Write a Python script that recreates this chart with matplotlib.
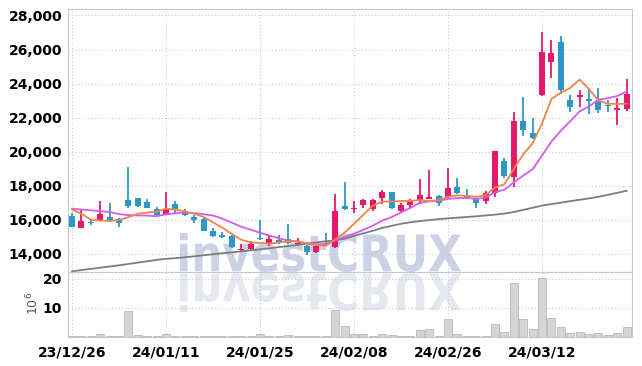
import numpy as np
import matplotlib.pyplot as plt
from matplotlib.textpath import TextPath
from matplotlib.patches import PathPatch
from matplotlib.font_manager import FontProperties
from matplotlib.transforms import Affine2D

# tick labels (every 10 trading days)
date_labels = ["23/12/26", "24/01/11", "24/01/25", "24/02/08", "24/02/26", "24/03/12"]
date_pos = [0, 10, 20, 30, 40, 50]

opens = [16200, 15500, 15850, 15950, 16150, 16050, 17150, 17250, 17050, 16600,
         16350, 16950, 16450, 16150, 16050, 15350, 15100, 15050, 14200, 14250,
         14950, 14650, 14800, 14850, 14550, 14450, 14100, 14600, 14400, 16800,
         16600, 16850, 16650, 17300, 17600, 16500, 16850, 17100, 17250, 17400,
         17350, 17950, 17450, 17200, 17100, 17550, 19450, 18500, 21800, 21100,
         23350, 25250, 26450, 23050, 23250, 23050, 22950, 22750, 22450, 22500]
highs = [16400, 16650, 16000, 17100, 17000, 16100, 19100, 17300, 17200, 16750,
         17600, 17100, 16600, 16250, 16150, 15500, 15300, 15100, 14550, 14750,
         16000, 15050, 15100, 15750, 14950, 14500, 14500, 15200, 17500, 18200,
         17100, 17200, 17200, 17750, 17600, 17000, 17200, 18400, 18900, 17450,
         19050, 18450, 17800, 17250, 17700, 20050, 19650, 22300, 23200, 21950,
         27000, 26550, 26800, 23350, 23600, 23700, 23750, 23050, 23150, 24250]
lows = [15550, 15500, 15700, 15900, 15850, 15550, 16700, 16750, 16700, 16250,
        16250, 16400, 16200, 15800, 15350, 15000, 14950, 14350, 14150, 14200,
        14800, 14450, 14550, 14600, 14450, 13950, 14050, 14450, 14350, 16550,
        16400, 16700, 16500, 16900, 16650, 16450, 16600, 16900, 17200, 16800,
        17300, 17500, 17250, 16700, 16950, 17350, 18450, 17900, 20900, 20750,
        23250, 24300, 23400, 22350, 22650, 22200, 22250, 22350, 21550, 22400]
closes = [15550, 15950, 15800, 16350, 16000, 15800, 16800, 16800, 16700, 16300,
          16650, 16550, 16250, 16000, 15350, 15050, 15000, 14400, 14300, 14600,
          14850, 14850, 14700, 14650, 14650, 14100, 14450, 14500, 16500, 16650,
          16700, 17150, 17150, 17650, 16700, 16850, 17150, 17450, 17320, 17000,
          17850, 17550, 17300, 17000, 17550, 20050, 18550, 21800, 21250, 20800,
          25850, 25800, 23600, 22650, 23300, 23000, 22450, 22700, 22550, 23400]
# volume in millions of shares
volume = [0.2, 0.2, 0.1, 0.9, 0.4, 0.1, 8.9, 0.7, 0.4, 0.4,
          0.9, 0.4, 0.1, 0.3, 0.1, 0.1, 0.1, 0.1, 0.3, 0.3,
          0.9, 0.2, 0.1, 0.6, 0.1, 0.1, 0.1, 0.3, 9.2, 3.7,
          1.0, 1.0, 0.4, 1.0, 0.6, 0.2, 0.2, 2.4, 2.7, 0.3,
          6.2, 1.0, 0.2, 0.2, 0.2, 4.5, 1.7, 18.6, 6.2, 2.8,
          20.3, 6.5, 3.3, 1.3, 1.6, 1.0, 1.3, 0.7, 1.3, 3.4]
ma5 = [16600, 16350, 16000, 15950, 15930, 15980, 16150, 16350, 16420, 16480,
       16650, 16600, 16490, 16350, 16160, 15840, 15530, 15160, 14820, 14670,
       14630, 14600, 14660, 14730, 14740, 14590, 14510, 14470, 14840, 15240,
       15760, 16300, 16830, 17060, 17070, 17100, 17100, 17160, 17090, 17150,
       17350, 17430, 17400, 17340, 17450, 17890, 18090, 18990, 19840, 20490,
       21650, 23100, 23460, 23740, 24240, 23670, 23000, 22820, 22800, 22820]
ma10 = [16650, 16600, 16550, 16500, 16450, 16330, 16270, 16250, 16240, 16205,
        16315, 16375, 16420, 16385, 16320, 16245, 16065, 15825, 15585, 15415,
        15235, 15065, 14910, 14775, 14705, 14610, 14555, 14565, 14785, 14990,
        15175, 15405, 15650, 15950, 16155, 16430, 16700, 16995, 17077, 17112,
        17227, 17267, 17282, 17217, 17302, 17622, 17762, 18197, 18590, 18970,
        19770, 20595, 21225, 21790, 22365, 22660, 23050, 23140, 23270, 23530]
ma_long = [12970, 13040, 13110, 13180, 13250, 13320, 13400, 13480, 13560, 13640,
           13700, 13740, 13790, 13850, 13910, 13970, 14030, 14080, 14140, 14200,
           14260, 14320, 14390, 14450, 14520, 14600, 14670, 14730, 14800, 14880,
           15050, 15200, 15350, 15520, 15640, 15760, 15850, 15920, 15980, 16030,
           16080, 16120, 16160, 16200, 16250, 16300, 16360, 16450, 16580, 16700,
           16830, 16920, 17000, 17090, 17170, 17250, 17350, 17460, 17580, 17700]

pink = '#e5196a'
blue = '#2f97c8'
grid_c = '#c6c9da'
spine_c = '#c8c8c8'
tick_font = ['Liberation Sans Narrow', 'DejaVu Sans']

fig = plt.figure(figsize=(6.42, 3.66), dpi=100)
ax = fig.add_axes([68/642, (366-272.3)/366, 564/642, (272.3-9)/366])
axv = fig.add_axes([68/642, (366-336.7)/366, 564/642, (336.7-272.3)/366], sharex=ax)
for a in (ax, axv):
    a.set_facecolor('none')
    a.set_axisbelow(True)
    a.grid(True, ls=(0, (1, 2)), color=grid_c, lw=0.8)
    for s in a.spines.values():
        s.set_color(spine_c)
    a.tick_params(length=0)

# watermark with reflection
fp = FontProperties(family='DejaVu Sans', weight='bold')
tp = TextPath((0, 0), 'investCRUX', size=50, prop=fp)
bb = tp.get_extents()
sx = (461 - 180) / bb.width
sy = (133 - 94) / bb.height
t_main = Affine2D().translate(-bb.x0, -bb.y0).scale(sx, sy).translate(180, 94)
t_refl = Affine2D().translate(-bb.x0, -bb.y0).scale(sx, -sy).translate(180, 93)
fig.add_artist(PathPatch(tp, transform=t_main, facecolor='#ccd2e5', lw=0, zorder=-1))
fig.add_artist(PathPatch(tp, transform=t_refl, facecolor='#e6e8ef', lw=0, zorder=-1))

o = np.array(opens)
c = np.array(closes)
x = np.arange(len(c))
cols = np.where(c >= o, pink, blue)
ax.vlines(x, lows, highs, colors=cols, lw=1.3, zorder=3)
h = np.maximum(np.abs(c - o), 80)
ax.bar(x, h, bottom=(o + c) / 2 - h / 2, width=0.64, color=cols, zorder=4)

ax.plot(x, ma_long, color='#7d7d7d', lw=1.3, zorder=5)
ax.plot(x, ma10, color='#d35ce8', lw=1.3, zorder=5)
ax.plot(x, ma5, color='#ef8448', lw=1.3, zorder=5)

ax.set_xlim(-0.43, 59.57)
ax.set_ylim(12910, 28380)
yt = list(range(14000, 28001, 2000))
ax.set_yticks(yt)
ax.set_yticklabels([f"{v:,}" for v in yt], family=tick_font, weight='bold', fontsize=10)
ax.tick_params(axis='y', pad=4.3)
ax.tick_params(axis='x', labelbottom=False)

axv.bar(x, volume, width=0.85, color='#d5d5d5', edgecolor='#b8b8b8', lw=0.6, zorder=2)
axv.set_ylim(0, 22.3)
axv.set_yticks([10, 20])
axv.set_yticklabels(['10', '20'], family=tick_font, weight='bold', fontsize=10)
axv.tick_params(axis='y', pad=4.3)
axv.set_xticks(date_pos)
axv.set_xticklabels(date_labels, family=tick_font, weight='bold', fontsize=10)
axv.tick_params(axis='x', pad=6)

fig.text(33/642, 1 - 303/366, r'$10^6$', rotation=90, ha='center', va='center',
         color='#555555', fontsize=9)

fig.savefig('out.png', dpi=100)
